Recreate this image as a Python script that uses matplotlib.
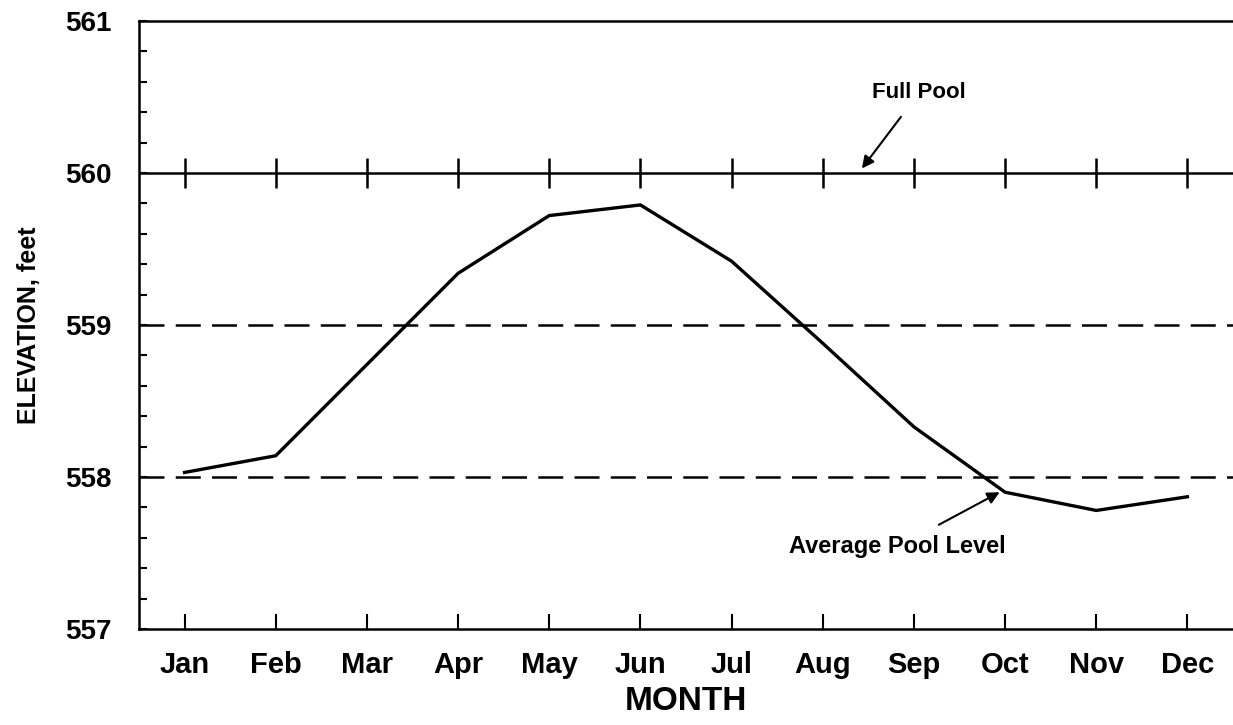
import matplotlib
matplotlib.use("Agg")
import matplotlib.pyplot as plt
from matplotlib.ticker import MultipleLocator

months = ["Jan", "Feb", "Mar", "Apr", "May", "Jun",
          "Jul", "Aug", "Sep", "Oct", "Nov", "Dec"]
elevation = [558.03, 558.14, 558.74, 559.34, 559.72, 559.79,
             559.42, 558.88, 558.33, 557.90, 557.78, 557.87]
full_pool = 560.0
guide_levels = [558.0, 559.0]

plt.rcParams.update({"font.family": ["Liberation Sans", "DejaVu Sans"],
                     "font.weight": "bold", "axes.labelweight": "bold",
                     "font.size": 18})

fig = plt.figure(figsize=(12.33, 7.25), dpi=100)
ax = fig.add_axes([0.1127, 0.1324, 0.8873, 0.8386])

x = list(range(1, len(months) + 1))

# dashed guide lines
for lvl in guide_levels:
    ax.axhline(lvl, color="black", lw=1.8, dashes=(10, 4.5))

# full pool line with month cross-ticks
ax.axhline(full_pool, color="black", lw=1.8)
ax.vlines(x, full_pool - 0.1, full_pool + 0.1, color="black", lw=1.8)

ax.plot(x, elevation, color="black", lw=2.4, solid_joinstyle="miter")

ax.set_xlim(0.5, 12.5)
ax.set_ylim(557, 561)
ax.set_xticks(x)
ax.set_xticklabels(months)
ax.yaxis.set_major_locator(MultipleLocator(1))
ax.yaxis.set_minor_locator(MultipleLocator(0.2))
ax.tick_params(axis="x", direction="in", length=11, width=1.5, pad=16,
               labelsize=21)
ax.tick_params(axis="y", which="both", direction="in", length=6, width=1.5,
               pad=20, labelsize=20)
ax.spines["right"].set_visible(False)
for s in ["left", "bottom", "top"]:
    ax.spines[s].set_linewidth(1.8)

ax.set_xlabel("MONTH", fontsize=24, labelpad=5)
ax.set_ylabel("ELEVATION, feet", fontsize=18, labelpad=17)

ax.annotate("Full Pool", xy=(8.43, 560.03), xytext=(9.06, 560.53),
            ha="center", va="center", fontsize=16,
            arrowprops=dict(arrowstyle="-|>", color="black", lw=1.5,
                            mutation_scale=18, shrinkA=10, shrinkB=0))
ax.annotate("Average Pool Level", xy=(9.94, 557.9), xytext=(8.82, 557.54),
            ha="center", va="center", fontsize=17,
            arrowprops=dict(arrowstyle="-|>", color="black", lw=1.5,
                            mutation_scale=18, shrinkA=12, shrinkB=0))

fig.savefig("out.png", dpi=100)
